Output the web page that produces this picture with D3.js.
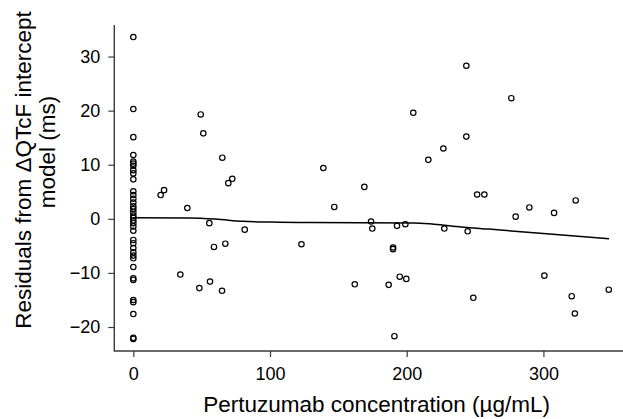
<!DOCTYPE html>
<html>
<head>
<meta charset="utf-8">
<script src="https://cdn.jsdelivr.net/npm/d3@7"></script>
<style>
  body { margin: 0; background: #fff; }
  svg { font-family: "Liberation Sans", Arial, sans-serif; }
</style>
</head>
<body>
<svg id="chart" width="623" height="419"></svg>
<script>
// residuals at zero concentration (placebo / baseline)
const zeroResiduals = [33.6, 20.3, 15.1, 11.8, 10.6, 10.2, 9.8, 9.0, 8.4, 7.3, 5.1, 4.4, 3.7, 3.0,
  2.3, 1.8, 1.2, 0.6, 0.2, -0.3, -0.8, -1.4, -2.2, -3.9, -4.5, -5.4, -6.2, -6.8, -7.3, -8.9,
  -11.0, -11.3, -15.0, -15.4, -17.6, -22.0, -22.2]

// residuals on treatment
const concentration = [49.3, 51.2, 65.1, 72.4, 69.5, 22.5, 20.0, 39.5, 55.6, 81.5, 59.0, 67.3, 123.0,
  34.4, 56.1, 48.3, 64.9, 243.6, 204.8, 243.6, 226.8, 215.8, 139.0, 169.0, 251.5, 147.0, 173.9,
  174.8, 192.9, 199.0, 227.5, 244.6, 190.0, 190.0, 194.9, 199.7, 162.0, 186.8, 248.7, 191.0,
  276.5, 256.8, 323.6, 289.7, 307.8, 279.7, 300.7, 347.8, 320.7, 323.0]
const residual = [19.3, 15.8, 11.3, 7.4, 6.6, 5.3, 4.4, 2.0, -0.8, -2.0, -5.2, -4.6, -4.7,
  -10.3, -11.6, -12.8, -13.3, 28.3, 19.6, 15.2, 13.0, 10.9, 9.4, 5.9, 4.5, 2.2, -0.5,
  -1.8, -1.3, -1.0, -1.8, -2.3, -5.3, -5.6, -10.7, -11.1, -12.1, -12.2, -14.6, -21.7,
  22.3, 4.5, 3.4, 2.1, 1.1, 0.4, -10.5, -13.1, -14.3, -17.5]

// loess smoother
const smoothConc = [0, 40, 60, 80, 100, 130, 205, 220, 240, 260, 300, 348]
const smoothResid = [0.2, 0.15, -0.05, -0.45, -0.6, -0.7, -0.75, -1.0, -1.5, -1.9, -2.7, -3.7]

const xTicks = [0, 100, 200, 300]
const yTicks = [-20, -10, 0, 10, 20, 30]

const xLabel = 'Pertuzumab concentration (µg/mL)'
const yLabel = ['Residuals from \u0394QTcF intercept', 'model (ms)']

const points = zeroResiduals.map(r => ({ conc: 0, res: r }))
  .concat(concentration.map((c, i) => ({ conc: c, res: residual[i] })))

const svg = d3.select('#chart')
const margin = { left: 114.3, top: 25, bottom: 351 }

/**
 * R style padded extent (4% on each side)
 */
function padded (values) {
  const [lo, hi] = d3.extent(values)
  const pad = (hi - lo) * 0.04
  return [lo - pad, hi + pad]
}

const xDom = padded(points.map(d => d.conc))
const yDom = padded(points.map(d => d.res))
const pxPerUnit = 1.367

const xScale = d3.scaleLinear().domain(xDom)
  .range([margin.left, margin.left + (xDom[1] - xDom[0]) * pxPerUnit])
const yScale = d3.scaleLinear().domain(yDom).range([margin.bottom, margin.top])

const axisColor = '#3a3a3a'

// L shaped box
svg.append('path')
  .attr('d', `M${margin.left},${margin.top}V${margin.bottom}H${xScale.range()[1]}`)
  .attr('fill', 'none')
  .attr('stroke', axisColor)
  .attr('stroke-width', 1.4)

const xAxis = svg.append('g')
  .attr('transform', `translate(0,${margin.bottom})`)
  .call(d3.axisBottom(xScale).tickValues(xTicks).tickSize(6).tickPadding(10))
xAxis.select('.domain').remove()

const yAxis = svg.append('g')
  .attr('transform', `translate(${margin.left},0)`)
  .call(d3.axisLeft(yScale).tickValues(yTicks).tickSize(6).tickPadding(8))
yAxis.select('.domain').remove()

svg.selectAll('.tick line').attr('stroke', axisColor).attr('stroke-width', 1.2)
svg.selectAll('.tick text')
  .attr('font-family', '"Liberation Sans", Arial, sans-serif')
  .attr('font-size', 18)
  .attr('fill', '#000')

// points
svg.append('g').selectAll('circle')
  .data(points)
  .enter()
  .append('circle')
  .attr('cx', d => xScale(d.conc))
  .attr('cy', d => yScale(d.res))
  .attr('r', 2.7)
  .attr('fill', 'none')
  .attr('stroke', '#000')
  .attr('stroke-width', 1.2)

// smoother
const line = d3.line()
  .x(d => xScale(d[0]))
  .y(d => yScale(d[1]))
  .curve(d3.curveMonotoneX)

svg.append('path')
  .datum(smoothConc.map((c, i) => [c, smoothResid[i]]))
  .attr('d', line)
  .attr('fill', 'none')
  .attr('stroke', '#000')
  .attr('stroke-width', 1.5)

// axis titles
svg.append('text')
  .attr('x', xScale(178))
  .attr('y', 412)
  .attr('text-anchor', 'middle')
  .attr('font-size', 22.5)
  .text(xLabel)

const yCenters = [170, 152]
svg.selectAll('.ylab')
  .data(yLabel)
  .enter()
  .append('text')
  .attr('class', 'ylab')
  .attr('transform', (d, i) => `translate(${31 + i * 24},${yCenters[i]}) rotate(-90)`)
  .attr('text-anchor', 'middle')
  .attr('font-size', 22.5)
  .text(d => d)
</script>
</body>
</html>
